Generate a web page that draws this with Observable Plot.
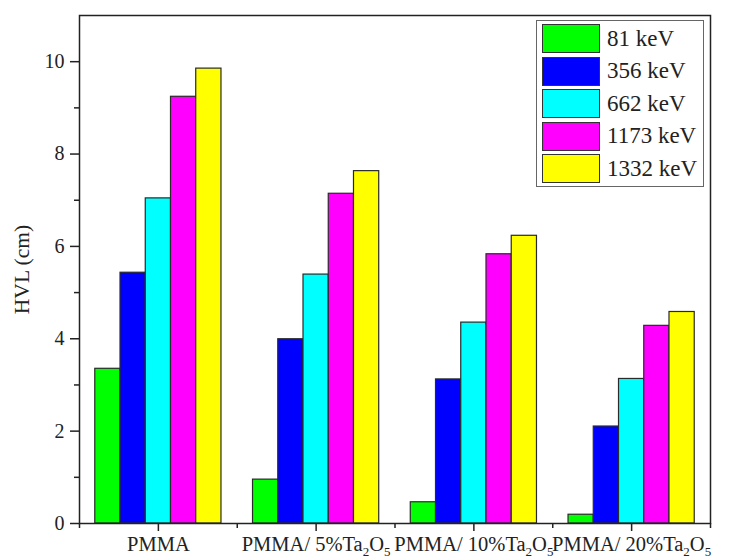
<!DOCTYPE html>
<html>
<head>
<meta charset="utf-8">
<script src="https://cdn.jsdelivr.net/npm/d3@7"></script>
<script src="https://cdn.jsdelivr.net/npm/@observablehq/plot@0.6"></script>
<style>
  html, body { margin: 0; padding: 0; background: #fff; }
  #wrap { position: relative; width: 748px; height: 559px; }
  #wrap svg text { font-family: "Liberation Serif", "Times New Roman", "DejaVu Serif", serif; }
  #legend { position: absolute; left: 536px; top: 20px; width: 168px; height: 167px;
    border: 1.5px solid #666; box-sizing: border-box; background: #fff;
    font-family: "Liberation Serif", "Times New Roman", "DejaVu Serif", serif; font-size: 23px; color: #222; }
  .row { position: absolute; left: 5px; height: 29px; display: flex; align-items: center; }
  .sw { width: 58px; height: 29px; box-sizing: border-box; border: 1.5px solid #333; margin-right: 7px; }
</style>
</head>
<body>
<div id="wrap"></div>
<script>
const categories = ["PMMA", "PMMA/ 5%Ta₂O₅", "PMMA/ 10%Ta₂O₅", "PMMA/ 20%Ta₂O₅"];
const energies = ["81 keV", "356 keV", "662 keV", "1173 keV", "1332 keV"];
const colors = ["#00ff00", "#0000ff", "#00ffff", "#ff00ff", "#ffff00"];
const hvl81   = [3.35, 0.95, 0.46, 0.19];
const hvl356  = [5.43, 3.99, 3.12, 2.10];
const hvl662  = [7.04, 5.39, 4.35, 3.13];
const hvl1173 = [9.24, 7.14, 5.83, 4.28];
const hvl1332 = [9.85, 7.63, 6.23, 4.58];
const yMajor = [0, 2, 4, 6, 8, 10];
const yMinor = [1, 3, 5, 7, 9];

const series = [hvl81, hvl356, hvl662, hvl1173, hvl1332];
const rows = [];
series.forEach((vals, j) => vals.forEach((v, i) => rows.push({cat: i, e: j, energy: energies[j], value: v})));

const groupWidth = 0.8, barW = groupWidth / energies.length;
const xMinor = d3.range(categories.length + 1).map(k => k - 0.5);

const chart = Plot.plot({
  width: 748, height: 559,
  marginLeft: 79, marginRight: 38, marginTop: 15, marginBottom: 36,
  style: {fontSize: "20px", color: "#222", background: "#fff"},
  x: {domain: [-0.5, categories.length - 0.5]},
  y: {domain: [0, 11]},
  color: {domain: energies, range: colors},
  marks: [
    Plot.rectY(rows, {
      x1: d => d.cat - groupWidth / 2 + barW * d.e,
      x2: d => d.cat - groupWidth / 2 + barW * (d.e + 1),
      y: "value", fill: "energy", stroke: "#2a2a2a", strokeWidth: 1.2
    }),
    Plot.frame({stroke: "#222", strokeWidth: 1.5}),
    Plot.axisY({ticks: yMajor, tickSize: 9, tickPadding: 6, strokeWidth: 1.5, fontSize: 20, label: null}),
    Plot.axisY({ticks: yMinor, tickSize: 5, strokeWidth: 1.5, tickFormat: () => "", label: null}),
    Plot.axisX({ticks: d3.range(categories.length), tickFormat: i => categories[i], tickSize: 8, tickPadding: 5, strokeWidth: 1.5, fontSize: 20.5, label: null}),
    Plot.axisX({ticks: xMinor, tickSize: 5, strokeWidth: 1.5, tickFormat: () => "", label: null}),
    Plot.text(["HVL (cm)"], {frameAnchor: "left", dx: -57, rotate: -90, textAnchor: "middle", fontSize: 21.5, fill: "#222"})
  ]
});

// render subscript characters as real lowered, smaller digits
const subMap = {"₀":"0","₁":"1","₂":"2","₃":"3","₄":"4","₅":"5","₆":"6","₇":"7","₈":"8","₉":"9"};
const ns = "http://www.w3.org/2000/svg";
chart.querySelectorAll("text").forEach(t => {
  const s = t.textContent;
  if (!/[₀-₉]/.test(s)) return;
  while (t.firstChild) t.removeChild(t.firstChild);
  let buf = "", sub = false, shifted = false;
  const flush = () => {
    if (!buf) return;
    const ts = document.createElementNS(ns, "tspan");
    ts.textContent = buf;
    if (sub) { ts.setAttribute("font-size", "13"); if (!shifted) { ts.setAttribute("dy", "5"); shifted = true; } }
    else if (shifted) { ts.setAttribute("dy", "-5"); shifted = false; }
    t.appendChild(ts);
    buf = "";
  };
  for (const ch of s) {
    const isSub = ch in subMap;
    if (isSub !== sub) { flush(); sub = isSub; }
    buf += isSub ? subMap[ch] : ch;
  }
  flush();
});

const wrap = document.getElementById("wrap");
wrap.appendChild(chart);

const legend = document.createElement("div");
legend.id = "legend";
energies.forEach((name, j) => {
  const r = document.createElement("div");
  r.className = "row";
  r.style.top = (3 + j * 32.5) + "px";
  const sw = document.createElement("div");
  sw.className = "sw";
  sw.style.background = colors[j];
  const lab = document.createElement("span");
  lab.textContent = name;
  r.appendChild(sw); r.appendChild(lab);
  legend.appendChild(r);
});
wrap.appendChild(legend);
</script>
</body>
</html>
